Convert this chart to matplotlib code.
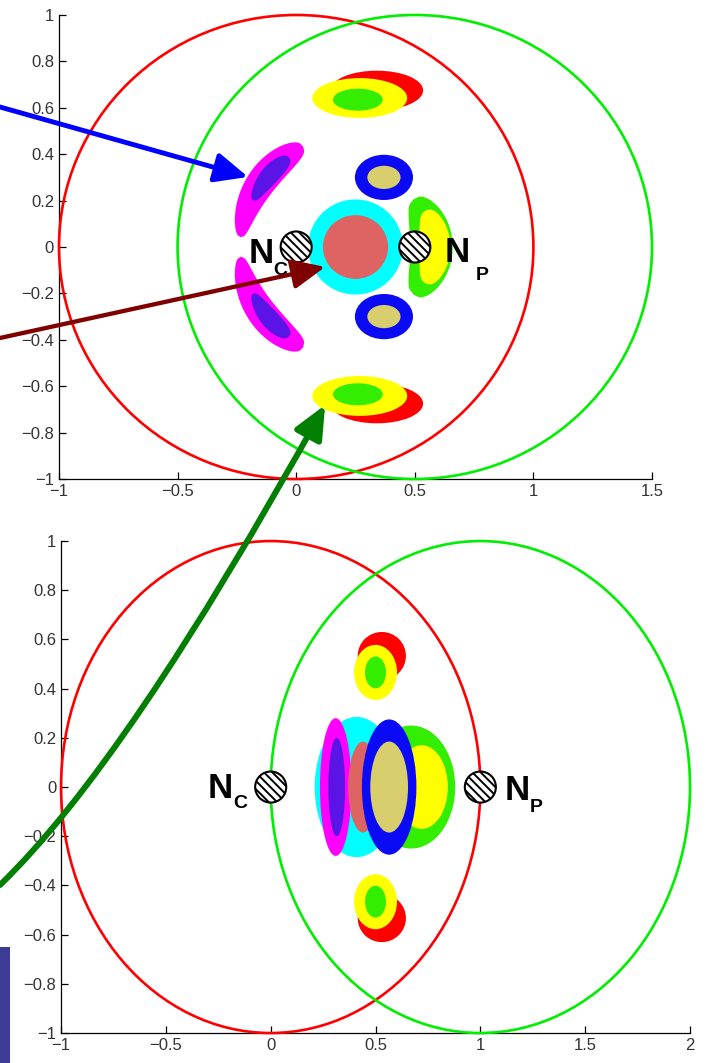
import matplotlib
matplotlib.use('Agg')
import matplotlib.pyplot as plt
import numpy as np
from matplotlib.patches import Ellipse, Circle, Polygon, Rectangle, ConnectionPatch
from matplotlib.ticker import FuncFormatter

plt.rcParams['font.family'] = ['Liberation Sans', 'DejaVu Sans']
plt.rcParams['hatch.linewidth'] = 1.4

# ---------------- data ----------------
colors = {'red': '#FF0000', 'yellow': '#FFFF00', 'lime': '#33EE00',
          'cyan': '#00FFFF', 'salmon': '#DE6464', 'blue': '#0A0AF5',
          'khaki': '#D8CE6E', 'magenta': '#FF00FF', 'violet': '#5A14E6'}

# top panel: reference circles (x, y, r)
top_ring_x = [0.0, 0.5]
top_ring_y = [0.0, 0.0]
top_ring_r = [1.0, 1.0]
top_ring_c = ['#FF0000', '#00EE00']

# top panel: elliptic regions (drawn in this order)
top_blob_kind = ['red', 'yellow', 'lime', 'red', 'yellow', 'lime',
                 'cyan', 'salmon', 'blue', 'khaki', 'blue', 'khaki']
top_blob_x = [0.34, 0.268, 0.26, 0.34, 0.268, 0.26,
              0.25, 0.25, 0.37, 0.37, 0.37, 0.37]
top_blob_y = [0.675, 0.642, 0.635, -0.675, -0.642, -0.635,
              0.0, 0.0, 0.30, 0.30, -0.30, -0.30]
top_blob_w = [0.39, 0.40, 0.21, 0.39, 0.40, 0.21,
              0.40, 0.275, 0.245, 0.14, 0.245, 0.14]
top_blob_h = [0.17, 0.172, 0.095, 0.17, 0.172, 0.095,
              0.41, 0.275, 0.195, 0.10, 0.195, 0.10]

# top panel: curved regions around (0.25, 0): radius, start/end angle, half width, taper
arc_cx, arc_cy = 0.25, 0.0
top_arc_kind = ['magenta', 'violet', 'magenta', 'violet', 'lime', 'yellow']
top_arc_r = [0.485, 0.475, 0.485, 0.475, 0.32, 0.335]
top_arc_t1 = [117, 126, -117, -126, -40, -28]
top_arc_t2 = [175, 155, -175, -155, 40, 28]
top_arc_hw = [0.075, 0.045, 0.075, 0.045, 0.09, 0.065]
top_arc_taper = [0.35, 0.3, 0.35, 0.3, 0.0, 0.0]

# bottom panel
bot_ring_x = [0.0, 1.0]
bot_ring_y = [0.0, 0.0]
bot_ring_r = [1.0, 1.0]

bot_blob_kind = ['red', 'yellow', 'lime', 'red', 'yellow', 'lime',
                 'lime', 'yellow', 'cyan', 'magenta', 'violet', 'salmon',
                 'blue', 'khaki']
bot_blob_x = [0.53, 0.50, 0.50, 0.53, 0.50, 0.50,
              0.67, 0.72, 0.41, 0.31, 0.315, 0.44, 0.565, 0.565]
bot_blob_y = [0.533, 0.466, 0.466, -0.533, -0.466, -0.466,
              0.0, 0.0, 0.0, 0.0, 0.0, 0.0, 0.0, 0.0]
bot_blob_w = [0.23, 0.205, 0.10, 0.23, 0.205, 0.10,
              0.42, 0.25, 0.40, 0.15, 0.08, 0.14, 0.26, 0.18]
bot_blob_h = [0.195, 0.224, 0.13, 0.195, 0.224, 0.13,
              0.50, 0.34, 0.57, 0.56, 0.40, 0.37, 0.55, 0.37]

# atoms: N_C and N_P
top_atom_x = [0.0, 0.5]
bot_atom_x = [0.0, 1.0]
atom_names = ['C', 'P']

top_xticks = [-1, -0.5, 0, 0.5, 1, 1.5]
bot_xticks = [-1, -0.5, 0, 0.5, 1, 1.5, 2]
yticks = [-1, -0.8, -0.6, -0.4, -0.2, 0, 0.2, 0.4, 0.6, 0.8, 1]


def arc_blob(r, t1, t2, hw, taper, n=80):
    t = np.linspace(0, 1, n)
    th = np.radians(t1 + (t2 - t1) * t)
    half = hw * np.sin(np.pi * t) ** 0.4 * (1 - taper * t)
    xo = arc_cx + (r + half) * np.cos(th)
    yo = arc_cy + (r + half) * np.sin(th)
    xi = arc_cx + (r - half) * np.cos(th)
    yi = arc_cy + (r - half) * np.sin(th)
    return np.column_stack([np.concatenate([xo, xi[::-1]]),
                            np.concatenate([yo, yi[::-1]])])


def style_axes(ax, xticks):
    for s in ['top', 'right']:
        ax.spines[s].set_visible(False)
    for s in ['left', 'bottom']:
        ax.spines[s].set_linewidth(0.9)
    ax.set_xticks(xticks)
    ax.set_yticks(yticks)
    fmt = FuncFormatter(lambda v, p: ('%g' % v).replace('-', '\u2212'))
    ax.xaxis.set_major_formatter(fmt)
    ax.yaxis.set_major_formatter(fmt)
    ax.tick_params(direction='in', length=5, width=0.9, labelsize=12,
                   labelcolor='#333333', pad=3.5)


def atom_labels(ax, x0, name, offs):
    # offs: pixel offsets (N left, N baseline, sub left, sub baseline)
    k = 0.72
    ax.annotate('N', (x0, 0), xytext=(offs[0] * k, -offs[1] * k),
                textcoords='offset points', ha='left', va='baseline',
                fontsize=25, fontweight='bold', zorder=6)
    ax.annotate(name, (x0, 0), xytext=(offs[2] * k, -offs[3] * k),
                textcoords='offset points', ha='left', va='baseline',
                fontsize=14, fontweight='bold', zorder=6)


fig = plt.figure(figsize=(7.08, 10.63), dpi=100)
ax1 = fig.add_axes([0.0833, 0.5494, 0.8376, 0.4365])
ax2 = fig.add_axes([0.0862, 0.0282, 0.8884, 0.4628])

# ---- top panel ----
for k, x, y, w, h in zip(top_blob_kind, top_blob_x, top_blob_y, top_blob_w, top_blob_h):
    ax1.add_patch(Ellipse((x, y), w, h, color=colors[k], lw=0, zorder=2))
for k, r, t1, t2, hw, tp in zip(top_arc_kind, top_arc_r, top_arc_t1, top_arc_t2,
                                top_arc_hw, top_arc_taper):
    ax1.add_patch(Polygon(arc_blob(r, t1, t2, hw, tp), closed=True,
                          color=colors[k], lw=0, zorder=2))
for x, y, r, c in zip(top_ring_x, top_ring_y, top_ring_r, top_ring_c):
    ax1.add_patch(Circle((x, y), r, fill=False, ec=c, lw=1.9, clip_on=False, zorder=3))
ax1.scatter(top_atom_x, [0, 0], s=500, facecolor='white', edgecolor='black',
            linewidth=1.5, hatch='\\' * 4, zorder=5)
atom_labels(ax1, top_atom_x[0], atom_names[0], (-48, 16, -23, 28))
atom_labels(ax1, top_atom_x[1], atom_names[1], (30, 15, 61, 33))
ax1.set_xlim(-1, 1.5)
ax1.set_ylim(-1, 1)
style_axes(ax1, top_xticks)

# ---- bottom panel ----
for k, x, y, w, h in zip(bot_blob_kind, bot_blob_x, bot_blob_y, bot_blob_w, bot_blob_h):
    ax2.add_patch(Ellipse((x, y), w, h, color=colors[k], lw=0, zorder=2))
for x, y, r, c in zip(bot_ring_x, bot_ring_y, bot_ring_r, top_ring_c):
    ax2.add_patch(Circle((x, y), r, fill=False, ec=c, lw=1.9, clip_on=False, zorder=3))
ax2.scatter(bot_atom_x, [0, 0], s=500, facecolor='white', edgecolor='black',
            linewidth=1.5, hatch='\\' * 4, zorder=5)
atom_labels(ax2, bot_atom_x[0], atom_names[0], (-63, 11, -37, 21))
atom_labels(ax2, bot_atom_x[1], atom_names[1], (24, 13, 49, 25))
ax2.set_xlim(-1, 2)
ax2.set_ylim(-1, 1)
style_axes(ax2, bot_xticks)


# ---- arrows from the left margin ----
def fig_arrow(start_px, tip, color, lw, conn='arc3,rad=0'):
    xa = (start_px[0] / 708.0, 1 - start_px[1] / 1063.0)
    con = ConnectionPatch(xyA=xa, coordsA='figure fraction', xyB=tip, coordsB=ax1.transData,
                          arrowstyle='-|>,head_length=1.0,head_width=0.45', mutation_scale=20,
                          color=color, lw=lw, shrinkA=0, shrinkB=0,
                          connectionstyle=conn, zorder=10)
    fig.add_artist(con)


fig_arrow((0, 107), (-0.203, 0.302), '#0000FF', 3.5)
fig_arrow((0, 338), (0.122, -0.086), '#800000', 3.1)
fig_arrow((0, 885), (0.122, -0.681), '#007F00', 4.3, 'angle3,angleA=44,angleB=61')

fig.add_artist(Rectangle((0, 0), 10 / 708.0, 116 / 1063.0, transform=fig.transFigure,
                         color='#3C3C96', lw=0))

fig.savefig('out.png', dpi=100)
